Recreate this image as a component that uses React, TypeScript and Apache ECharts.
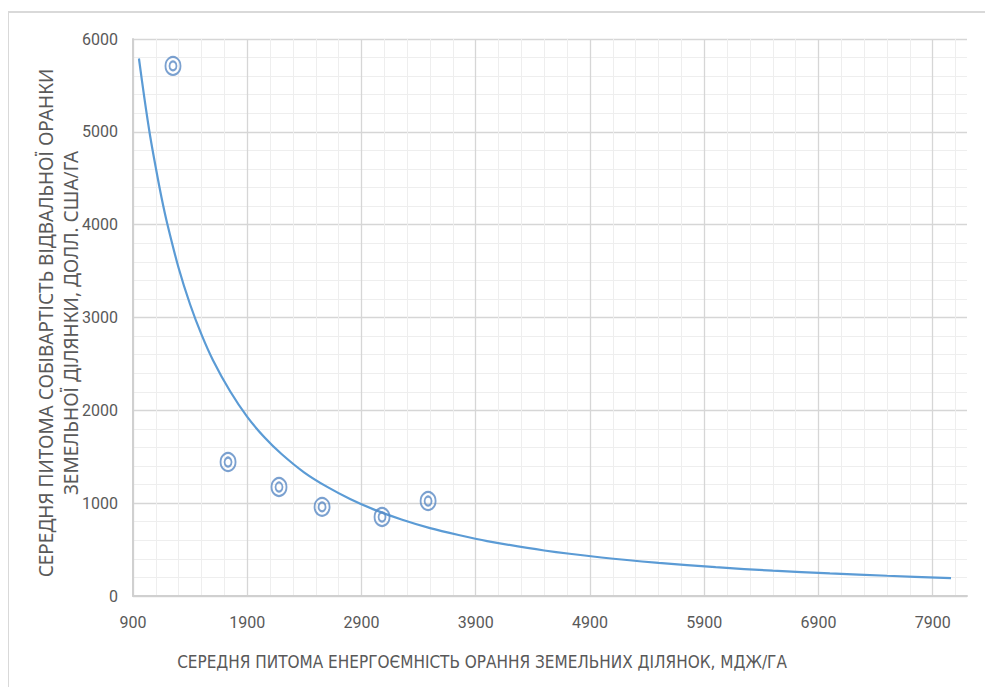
import React, { useEffect, useRef } from "react";
import * as echarts from "echarts";

// Observed points (energy intensity, MJ/ha -> cost, USD/ha)
const pointX = [1250, 1732, 2178, 2555, 3080, 3483];
const pointY = [5710, 1443, 1174, 960, 851, 1023];

// Trend line
const trendX = [952, 1000, 1050, 1100, 1150, 1200, 1300, 1400, 1500, 1600, 1750, 1900, 2050, 2200, 2400, 2600, 2800, 3000, 3250, 3500, 3750, 4000, 4500, 5000, 5500, 6000, 6500, 7000, 7500, 8060];
const trendY = [5790, 5360, 4955, 4610, 4290, 4010, 3530, 3140, 2815, 2540, 2205, 1930, 1710, 1530, 1330, 1175, 1045, 936, 824, 731, 657, 592, 490, 415, 357, 310, 273, 243, 218, 192];

const xTitle = "СЕРЕДНЯ ПИТОМА ЕНЕРГОЄМНІСТЬ ОРАННЯ ЗЕМЕЛЬНИХ ДІЛЯНОК, МДЖ/ГА";
const yTitle1 = "СЕРЕДНЯ ПИТОМА СОБІВАРТІСТЬ ВІДВАЛЬНОЇ ОРАНКИ";
const yTitle2 = "ЗЕМЕЛЬНОЇ ДІЛЯНКИ, ДОЛЛ. США/ГА";

const W = 977;
const H = 679;
const narrow = "'Liberation Sans Narrow', 'DejaVu Sans Condensed', sans-serif";
const tickFont = "Roboto, 'Noto Sans', sans-serif";
const txt = "#595959";
const markerColor = "#5a8ac4";
const lineColor = "#5b9bd5";

export default function App() {
  const ref = useRef<HTMLDivElement>(null);
  useEffect(() => {
    if (!ref.current) return;
    const chart = echarts.init(ref.current, null, { renderer: "svg" });
    const pts = pointX.map((x, i) => [x, pointY[i]]);
    const trend = trendX.map((x, i) => [x, trendY[i]]);
    chart.setOption({
      animation: false,
      backgroundColor: "#ffffff",
      grid: { left: 125, top: 31, right: 18, bottom: 91 },
      xAxis: {
        type: "value",
        min: 900,
        max: 8200,
        interval: 1000,
        axisLine: { show: true, lineStyle: { color: "#d0d0d0", width: 2 } },
        axisTick: { show: false },
        axisLabel: {
          color: txt,
          fontFamily: tickFont,
          fontSize: 16,
          margin: 18,
          showMaxLabel: false,
          formatter: (v: number) => (v === 8200 ? "" : String(v)),
        },
        splitLine: { show: true, showMaxLine: false, lineStyle: { color: "#d6d6d6", width: 1.3 } },
        minorTick: { show: false, splitNumber: 5 },
        minorSplitLine: { show: true, lineStyle: { color: "#eeeeee", width: 1 } },
      },
      yAxis: {
        type: "value",
        min: 0,
        max: 6000,
        interval: 1000,
        axisLine: { show: true, lineStyle: { color: "#d0d0d0", width: 2 } },
        axisTick: { show: false },
        axisLabel: {
          color: txt,
          fontFamily: tickFont,
          fontSize: 16,
          margin: 15,
          formatter: (v: number) => String(v),
        },
        splitLine: { show: true, lineStyle: { color: "#d6d6d6", width: 1.3 } },
        minorTick: { show: false, splitNumber: 5 },
        minorSplitLine: { show: true, lineStyle: { color: "#eeeeee", width: 1 } },
      },
      series: [
        {
          type: "line",
          data: trend,
          smooth: 0.3,
          showSymbol: false,
          symbol: "none",
          lineStyle: { color: lineColor, width: 2.2 },
          z: 2,
        },
        {
          type: "scatter",
          data: pts,
          symbol: "circle",
          symbolSize: [15, 18],
          itemStyle: { color: "rgba(255,255,255,0)", borderColor: markerColor, borderWidth: 2 },
          z: 3,
        },
        {
          type: "scatter",
          data: pts,
          symbol: "circle",
          symbolSize: [7, 9],
          itemStyle: { color: "rgba(255,255,255,0)", borderColor: markerColor, borderWidth: 2 },
          z: 3,
        },
      ],
      graphic: [
        { type: "line", shape: { x1: 0, y1: 4, x2: W, y2: 4 }, style: { stroke: "#d9d9d9", lineWidth: 2 } },
        { type: "line", shape: { x1: 0, y1: 4, x2: 0, y2: H }, style: { stroke: "#d9d9d9", lineWidth: 2 } },
        {
          type: "text",
          x: 38,
          y: 315,
          rotation: Math.PI / 2,
          style: {
            text: yTitle1,
            fill: txt,
            font: "19px 'Noto Sans', sans-serif",
            align: "center",
            verticalAlign: "middle",
          },
        },
        {
          type: "text",
          x: 63,
          y: 315,
          rotation: Math.PI / 2,
          style: {
            text: yTitle2,
            fill: txt,
            font: "19px 'Noto Sans', sans-serif",
            align: "center",
            verticalAlign: "middle",
          },
        },
        {
          type: "text",
          x: 474,
          y: 654,
          style: {
            text: xTitle,
            fill: txt,
            font: `17px ${narrow}`,
            align: "center",
            verticalAlign: "middle",
          },
        },
      ],
    });
    return () => chart.dispose();
  }, []);
  return <div ref={ref} style={{ width: W, height: H }} />;
}
